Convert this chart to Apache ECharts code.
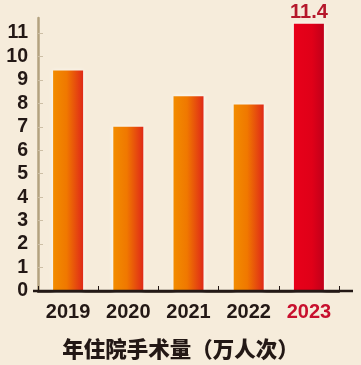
<!DOCTYPE html>
<html>
<head>
<meta charset="utf-8">
<script src="https://cdn.jsdelivr.net/npm/echarts@6/dist/echarts.min.js"></script>
<style>
html,body{margin:0;padding:0;background:#f6ecdb;}
#c{width:361px;height:365px;}
</style>
</head>
<body>
<div id="c"></div>
<script>
const categories = ['2019', '2020', '2021', '2022', '2023'];
const values = [9.4, 7.0, 8.3, 7.95, 11.4];
const yTicks = [0, 1, 2, 3, 4, 5, 6, 7, 8, 9, 10, 11];
const highlightIndex = 4;
const title = '年住院手术量（万人次）';

const orangeGrad = new echarts.graphic.LinearGradient(0, 0, 1, 0, [
  {offset: 0, color: '#f28c00'},
  {offset: 0.45, color: '#f07800'},
  {offset: 1, color: '#df2a18'}
]);
const redGrad = new echarts.graphic.LinearGradient(0, 0, 1, 0, [
  {offset: 0, color: '#e8001a'},
  {offset: 0.6, color: '#e00018'},
  {offset: 1, color: '#c0001a'}
]);

const chart = echarts.init(document.getElementById('c'));
chart.setOption({
  backgroundColor: '#f6ecdb',
  animation: false,
  grid: {left: 38, right: 22, top: 18, bottom: 74},
  title: {
    text: title, left: 'center', top: 333,
    textStyle: {fontFamily: 'Noto Sans CJK SC', fontWeight: 900, fontSize: 21.5, color: '#231815'}
  },
  graphic: [{
    type: 'line', shape: {x1: 33, y1: 291, x2: 353, y2: 291},
    style: {stroke: '#231815', lineWidth: 2.5}, z: 10
  }],
  xAxis: {
    type: 'category',
    data: categories,
    axisLine: {show: true, lineStyle: {color: '#231815', width: 2.5}},
    axisTick: {show: true, inside: true, length: 5, lineStyle: {color: '#231815', width: 1}},
    axisLabel: {
      interval: 0, hideOverlap: false,
      margin: 11,
      fontFamily: 'Liberation Sans', fontWeight: 'bold', fontSize: 20, color: '#231815',
      formatter: (v, i) => i === highlightIndex ? '{h|' + v + '}' : v,
      rich: {h: {fontFamily: 'Liberation Sans', fontWeight: 'bold', fontSize: 20, color: '#c8102e'}}
    }
  },
  yAxis: {
    type: 'value',
    min: 0, max: 11.64,
    splitLine: {show: false},
    axisLine: {show: true, lineStyle: {color: '#b3a27f', width: 2.5}},
    axisTick: {show: true, inside: true, length: 5, customValues: yTicks, lineStyle: {color: '#cdbfa6', width: 1}},
    axisLabel: {
      customValues: yTicks, margin: 10,
      fontFamily: 'Liberation Sans', fontWeight: 'bold', fontSize: 19.5, color: '#231815'
    }
  },
  series: [{
    type: 'bar',
    barWidth: 30,
    data: values.map((v, i) => ({
      value: v,
      itemStyle: {color: i === highlightIndex ? redGrad : orangeGrad},
      label: i === highlightIndex ? {
        show: true, position: 'top', distance: 1,
        fontFamily: 'Liberation Sans', fontWeight: 'bold', fontSize: 20, color: '#b5182b'
      } : {show: false}
    })),
    itemStyle: {shadowColor: 'rgba(255,255,255,0.9)', shadowBlur: 4}
  }]
});
</script>
</body>
</html>
